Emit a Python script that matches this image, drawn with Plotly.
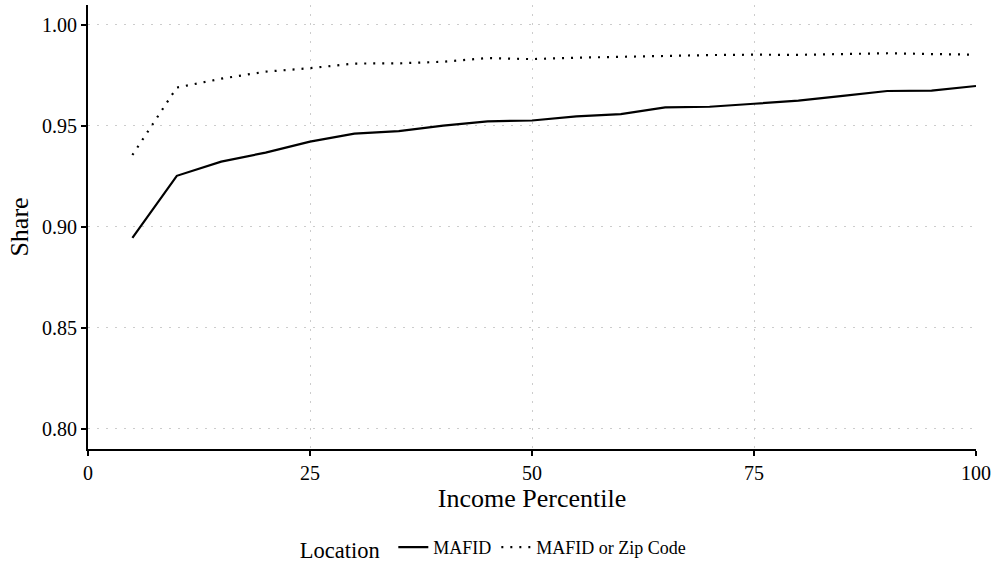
import plotly.graph_objects as go

percentile = [5, 10, 15, 20, 25, 30, 35, 40, 45, 50, 55, 60, 65, 70, 75, 80, 85, 90, 95, 100]
mafid = [0.8946, 0.9253, 0.9323, 0.9368, 0.9422, 0.9462, 0.9474, 0.9502, 0.9523, 0.9527,
         0.9547, 0.9559, 0.9592, 0.9595, 0.9610, 0.9625, 0.9649, 0.9673, 0.9675, 0.9698]
mafid_zip = [0.9356, 0.9690, 0.9734, 0.9769, 0.9786, 0.9809, 0.9810, 0.9818, 0.9836, 0.9831,
             0.9838, 0.9843, 0.9848, 0.9851, 0.9853, 0.9852, 0.9856, 0.9860, 0.9856, 0.9853]
series_names = ["MAFID", "MAFID or Zip Code"]
x_ticks = [0, 25, 50, 75, 100]
y_ticks = [0.80, 0.85, 0.90, 0.95, 1.00]

FONT = "Liberation Serif, Times New Roman, serif"

fig = go.Figure()
fig.add_trace(go.Scatter(x=percentile, y=mafid, mode="lines", name=series_names[0],
                         line=dict(color="black", width=2.2, dash="solid")))
fig.add_trace(go.Scatter(x=percentile, y=mafid_zip, mode="lines", name=series_names[1],
                         line=dict(color="black", width=2.2, dash="2px,7px")))

axis_common = dict(
    showline=True, linecolor="black", linewidth=2,
    ticks="outside", ticklen=5, tickcolor="black", tickwidth=1.5,
    showgrid=True, gridcolor="#cccccc", gridwidth=1, griddash="2px,7px",
    zeroline=False, automargin=False, tickfont=dict(family=FONT, size=20, color="black"),
)

fig.update_xaxes(range=[0, 100], tickvals=x_ticks, ticktext=[str(v) for v in x_ticks],
                 title=dict(text="Income Percentile", font=dict(family=FONT, size=26, color="black"), standoff=2),
                 **axis_common)
fig.update_yaxes(range=[0.79, 1.0099], tickvals=y_ticks, ticktext=[f"{v:.2f}" for v in y_ticks],
                 title=dict(text="Share", font=dict(family=FONT, size=26, color="black"), standoff=6),
                 **axis_common)

fig.update_layout(
    width=993, height=565,
    margin=dict(l=88, r=17, t=5, b=116, autoexpand=False),
    plot_bgcolor="white", paper_bgcolor="white",
    font=dict(family=FONT, color="black"),
    legend=dict(orientation="h", x=0.458, xanchor="center", y=-0.225, yanchor="middle",
                title=dict(text="Location ", font=dict(family=FONT, size=22.5), side="left"),
                font=dict(family=FONT, size=18), itemwidth=30, traceorder="normal"),
)

fig.write_html("out.html", config={"displayModeBar": False},
               post_script="document.body.style.margin='0';")
